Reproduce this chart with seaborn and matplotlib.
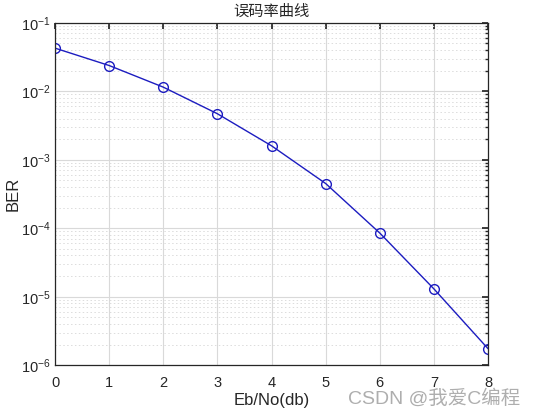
import matplotlib
matplotlib.use('Agg')
import numpy as np
import matplotlib.pyplot as plt
import seaborn as sns
from matplotlib.ticker import LogLocator, NullFormatter

# data
ebno = [0, 1, 2, 3, 4, 5, 6, 7, 8]
ber = [4.27e-2, 2.38e-2, 1.15e-2, 4.7e-3, 1.6e-3, 4.5e-4, 8.5e-5, 1.3e-5, 1.74e-6]

sns.set_theme(style='white')
plt.rcParams['font.family'] = ['Liberation Sans', 'Noto Sans CJK SC', 'DejaVu Sans']
plt.rcParams['mathtext.fontset'] = 'custom'
plt.rcParams['mathtext.rm'] = 'Liberation Sans'
plt.rcParams['mathtext.it'] = 'Liberation Sans:italic'

fig = plt.figure(figsize=(5.34, 4.15), dpi=100)
ax = fig.add_axes([0.103, 0.12, 0.811, 0.825])

color = '#1c1cc0'
sns.lineplot(x=ebno, y=ber, ax=ax, color=color, linewidth=1.0, marker='o',
             markersize=7, markerfacecolor='none', markeredgecolor=color,
             markeredgewidth=1.0)

ax.set_yscale('log')
ax.set_xlim(0, 8)
ax.set_ylim(1e-6, 1e-1)
ax.set_xticks(ebno)
ax.yaxis.set_major_locator(LogLocator(base=10, numticks=10))
ax.yaxis.set_minor_locator(LogLocator(base=10, subs=np.arange(2, 10), numticks=20))
ax.yaxis.set_minor_formatter(NullFormatter())

ax.grid(True, which='major', color='#d9d9d9', linewidth=0.8, linestyle='-')
ax.grid(True, which='minor', axis='y', color='#dcdcdc', linewidth=0.7, linestyle=(0, (1.5, 2.5)))
ax.set_axisbelow(True)

for s in ax.spines.values():
    s.set_color('#262626')
    s.set_linewidth(0.9)
ax.tick_params(which='both', direction='in', top=True, right=True, colors='#262626',
               labelsize=10.5, labelcolor='#262626')
ax.tick_params(which='major', length=4)
ax.tick_params(which='minor', length=2)
ax.tick_params(axis='x', pad=8)
ax.tick_params(axis='y', pad=3)

ax.set_xlabel('Eb/No(db)', fontsize=12, color='#262626', labelpad=2)
ax.set_ylabel('BER', fontsize=12, color='#262626')
ax.yaxis.set_label_coords(-0.08, 0.5)
ax.set_title('误码率曲线', fontsize=11, color='#262626', pad=5)

fig.text(0.975, 0.04, 'CSDN @我爱C编程', ha='right', va='center', fontsize=14,
         color='#9a9a9a', alpha=0.8)

fig.savefig('out.png', dpi=100, facecolor='white')
